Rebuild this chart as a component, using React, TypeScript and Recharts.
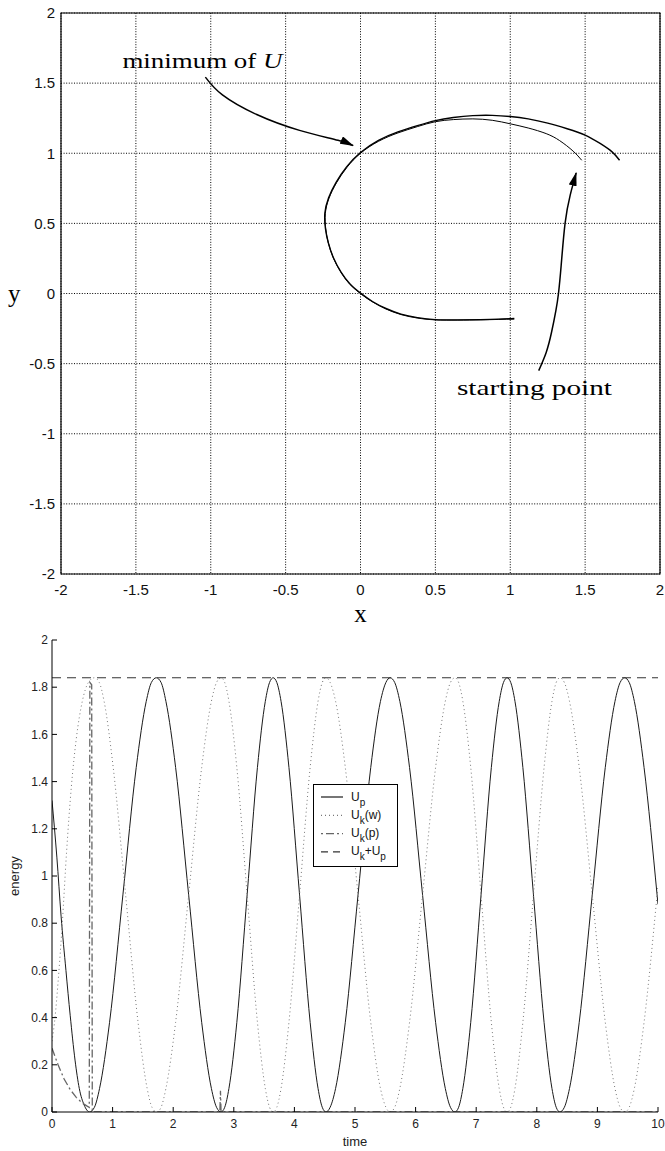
import React from "react";
import {
  LineChart,
  Line,
  XAxis,
  YAxis,
  CartesianGrid,
  ReferenceArea,
  ReferenceDot,
  Legend,
} from "recharts";

const SANS = "'Liberation Sans', Arial, sans-serif";
const SERIF = "'Liberation Serif', 'Times New Roman', serif";

// ---------- top panel: path in the x-y plane ----------
const planeTicks = [-2, -1.5, -1, -0.5, 0, 0.5, 1, 1.5, 2];

// first pass: from the starting point round to the lower end
const innerX = [1.477, 1.42, 1.33, 1.24, 1.12, 1.0, 0.88, 0.75, 0.62, 0.5, 0.38, 0.25, 0.12, 0.0, -0.09, -0.16, -0.21, -0.235, -0.232, -0.215, -0.18, -0.13, -0.07, 0.0, 0.08, 0.17, 0.27, 0.38, 0.5, 0.65, 0.8, 0.92, 1.027];
const innerY = [0.95, 1.015, 1.09, 1.14, 1.18, 1.21, 1.235, 1.245, 1.24, 1.225, 1.19, 1.145, 1.085, 1.0, 0.9, 0.79, 0.68, 0.57, 0.46, 0.36, 0.25, 0.15, 0.065, 0.0, -0.06, -0.11, -0.15, -0.175, -0.188, -0.19, -0.188, -0.185, -0.182];

// second pass: back from the lower end, out along the wider arc
const outerX = [1.027, 0.92, 0.8, 0.65, 0.5, 0.38, 0.27, 0.17, 0.08, 0.0, -0.07, -0.13, -0.18, -0.215, -0.234, -0.238, -0.213, -0.163, -0.093, 0.0, 0.12, 0.25, 0.38, 0.5, 0.62, 0.75, 0.88, 1.0, 1.12, 1.25, 1.38, 1.5, 1.6, 1.68, 1.73];
const outerY = [-0.178, -0.183, -0.186, -0.188, -0.186, -0.172, -0.147, -0.107, -0.057, 0.003, 0.068, 0.153, 0.253, 0.363, 0.463, 0.573, 0.683, 0.793, 0.903, 1.005, 1.092, 1.152, 1.197, 1.233, 1.255, 1.268, 1.27, 1.262, 1.245, 1.215, 1.175, 1.13, 1.07, 1.01, 0.95];

// annotation arrows
const arrowMinX = [-1.036, -0.922, -0.693, -0.407, -0.15, -0.05];
const arrowMinY = [1.543, 1.416, 1.276, 1.163, 1.092, 1.055];
const arrowStartX = [1.19, 1.24, 1.275, 1.305, 1.322, 1.34, 1.366, 1.4, 1.44];
const arrowStartY = [-0.55, -0.42, -0.28, -0.12, 0.0, 0.2, 0.5, 0.7, 0.86];

const minNote = { x: -1.59, y: 1.61, text: "minimum of ", symbol: "U" };
const startNote = { x: 0.644, y: -0.724, text: "starting point" };

// ---------- bottom panel: energies over time ----------
const timeTicks = [0, 1, 2, 3, 4, 5, 6, 7, 8, 9, 10];
const energyTicks = [0, 0.2, 0.4, 0.6, 0.8, 1, 1.2, 1.4, 1.6, 1.8, 2];

const upTime = [0, 0.08, 0.15, 0.23, 0.3, 0.38, 0.45, 0.53, 0.62,
  0.7, 0.785, 0.95, 1.17, 1.39, 1.555, 1.64, 1.72,
  1.8, 1.88, 2.04, 2.255, 2.47, 2.63, 2.715, 2.79,
  2.85, 2.92, 3.05, 3.22, 3.39, 3.52, 3.59, 3.65,
  3.71, 3.78, 3.91, 4.085, 4.26, 4.39, 4.46, 4.52,
  4.59, 4.68, 4.84, 5.05, 5.26, 5.42, 5.51, 5.58,
  5.655, 5.74, 5.9, 6.115, 6.33, 6.49, 6.575, 6.65,
  6.71, 6.78, 6.91, 7.08, 7.25, 7.38, 7.45, 7.51,
  7.57, 7.64, 7.77, 7.945, 8.12, 8.25, 8.32, 8.38,
  8.455, 8.54, 8.7, 8.915, 9.13, 9.29, 9.375, 9.45,
  9.525, 9.61, 9.77, 9.985, 10];
const upValue = [1.32, 1.08, 0.83, 0.6, 0.41, 0.22, 0.1, 0.03, 0,
  0.02, 0.1, 0.38, 0.92, 1.46, 1.74, 1.82, 1.84,
  1.82, 1.74, 1.46, 0.92, 0.38, 0.1, 0.02, 0,
  0.02, 0.1, 0.38, 0.92, 1.46, 1.74, 1.82, 1.84,
  1.82, 1.74, 1.46, 0.92, 0.38, 0.1, 0.02, 0,
  0.02, 0.1, 0.38, 0.92, 1.46, 1.74, 1.82, 1.84,
  1.82, 1.74, 1.46, 0.92, 0.38, 0.1, 0.02, 0,
  0.02, 0.1, 0.38, 0.92, 1.46, 1.74, 1.82, 1.84,
  1.82, 1.74, 1.46, 0.92, 0.38, 0.1, 0.02, 0,
  0.02, 0.1, 0.38, 0.92, 1.46, 1.74, 1.82, 1.84,
  1.82, 1.74, 1.46, 0.92, 0.88];

const ukwTime = [0, 0.05, 0.1, 0.17, 0.24, 0.32, 0.4, 0.5, 0.6, 0.7,
  0.78, 0.86, 1.01, 1.215, 1.42, 1.57, 1.65, 1.73,
  1.8, 1.88, 2.04, 2.255, 2.47, 2.63, 2.715, 2.79,
  2.85, 2.92, 3.05, 3.22, 3.39, 3.52, 3.59, 3.65,
  3.71, 3.78, 3.91, 4.085, 4.26, 4.39, 4.46, 4.52,
  4.59, 4.68, 4.84, 5.05, 5.26, 5.42, 5.51, 5.58,
  5.655, 5.74, 5.9, 6.115, 6.33, 6.49, 6.575, 6.65,
  6.71, 6.78, 6.91, 7.08, 7.25, 7.38, 7.45, 7.51,
  7.57, 7.64, 7.77, 7.945, 8.12, 8.25, 8.32, 8.38,
  8.455, 8.54, 8.7, 8.915, 9.13, 9.29, 9.375, 9.45,
  9.525, 9.61, 9.77, 9.985, 10];
const ukwValue = [0.3, 0.4, 0.55, 0.8, 1.1, 1.38, 1.58, 1.74, 1.82, 1.84,
  1.82, 1.74, 1.46, 0.92, 0.38, 0.1, 0.02, 0,
  0.02, 0.1, 0.38, 0.92, 1.46, 1.74, 1.82, 1.84,
  1.82, 1.74, 1.46, 0.92, 0.38, 0.1, 0.02, 0,
  0.02, 0.1, 0.38, 0.92, 1.46, 1.74, 1.82, 1.84,
  1.82, 1.74, 1.46, 0.92, 0.38, 0.1, 0.02, 0,
  0.02, 0.1, 0.38, 0.92, 1.46, 1.74, 1.82, 1.84,
  1.82, 1.74, 1.46, 0.92, 0.38, 0.1, 0.02, 0,
  0.02, 0.1, 0.38, 0.92, 1.46, 1.74, 1.82, 1.84,
  1.82, 1.74, 1.46, 0.92, 0.38, 0.1, 0.02, 0,
  0.02, 0.1, 0.38, 0.92, 0.96];

const ukpTime = [0, 0.1, 0.2, 0.3, 0.4, 0.5, 0.58, 0.615, 0.625, 0.655, 0.665, 2.77, 2.78, 2.79, 10];
const ukpValue = [0.27, 0.2, 0.14, 0.095, 0.062, 0.038, 0.025, 0.02, 1.82, 1.81, 0, 0, 0.09, 0, 0];

const sumTime = [0, 10];
const sumValue = [1.84, 1.84];

const legendRows = [
  { parts: [{ t: "U" }, { t: "p", sub: true }], stroke: "#1a1a1a", dash: undefined as string | undefined },
  { parts: [{ t: "U" }, { t: "k", sub: true }, { t: "(w)" }], stroke: "#777", dash: "1 3" },
  { parts: [{ t: "U" }, { t: "k", sub: true }, { t: "(p)" }], stroke: "#666", dash: "2 3 8 3" },
  { parts: [{ t: "U" }, { t: "k", sub: true }, { t: "+U" }, { t: "p", sub: true }], stroke: "#333", dash: "7 5" },
];

const toPlane = (xs: number[], ys: number[]) => xs.map((x, i) => ({ x, y: ys[i] }));
const toSeries = (ts: number[], vs: number[]) => ts.map((t, i) => ({ t, v: vs[i] }));

function PlanePanel() {
  const tickStyle = { fontFamily: SANS, fontSize: 15, fill: "#111" };
  return (
    <LineChart width={665} height={630} margin={{ top: 13, right: 5, bottom: 0, left: 0 }}>
      <defs>
        <marker id="arrowHead" viewBox="0 0 14 8" refX="13" refY="4" markerWidth="14" markerHeight="8" markerUnits="userSpaceOnUse" orient="auto">
          <path d="M0,0 L14,4 L0,8 z" fill="#000" />
        </marker>
      </defs>
      <CartesianGrid stroke="#000" strokeDasharray="1 1.6" />
      <XAxis
        type="number"
        dataKey="x"
        domain={[-2, 2]}
        ticks={planeTicks}
        interval={0}
        height={56}
        tickSize={0}
        tickMargin={10}
        tickLine={false}
        axisLine={false}
        tick={tickStyle}
        allowDataOverflow
        label={{ value: "x", position: "insideBottom", offset: 8, fontFamily: SERIF, fontSize: 25, fill: "#000" }}
      />
      <YAxis
        type="number"
        domain={[-2, 2]}
        ticks={planeTicks}
        interval={0}
        width={61}
        tickSize={0}
        tickMargin={6}
        tickLine={false}
        axisLine={false}
        tick={tickStyle}
        allowDataOverflow
        label={{ value: "y", position: "insideLeft", offset: 8, fontFamily: SERIF, fontSize: 25, fill: "#000" }}
      />
      <ReferenceArea x1={-2} x2={2} y1={-2} y2={2} fill="none" stroke="#000" strokeWidth={1.2} ifOverflow="visible" />
      <Line data={toPlane(innerX, innerY)} dataKey="y" type="natural" stroke="#000" strokeWidth={1} dot={false} isAnimationActive={false} />
      <Line data={toPlane(outerX, outerY)} dataKey="y" type="natural" stroke="#000" strokeWidth={1.4} dot={false} isAnimationActive={false} />
      <Line data={toPlane(arrowMinX, arrowMinY)} dataKey="y" type="natural" stroke="#000" strokeWidth={1.5} dot={false} markerEnd="url(#arrowHead)" isAnimationActive={false} />
      <Line data={toPlane(arrowStartX, arrowStartY)} dataKey="y" type="natural" stroke="#000" strokeWidth={1.5} dot={false} markerEnd="url(#arrowHead)" isAnimationActive={false} />
      <ReferenceDot
        x={minNote.x}
        y={minNote.y}
        r={0}
        ifOverflow="visible"
        shape={(p: any) => (
          <text x={p.cx} y={p.cy} fontFamily={SERIF} fontSize={22} fill="#000" textLength={160} lengthAdjust="spacingAndGlyphs">
            {minNote.text}
            <tspan fontStyle="italic">{minNote.symbol}</tspan>
          </text>
        )}
      />
      <ReferenceDot
        x={startNote.x}
        y={startNote.y}
        r={0}
        ifOverflow="visible"
        shape={(p: any) => (
          <text x={p.cx} y={p.cy} fontFamily={SERIF} fontSize={22} fill="#000" textLength={155} lengthAdjust="spacingAndGlyphs">
            {startNote.text}
          </text>
        )}
      />
    </LineChart>
  );
}

function EnergyLegend() {
  return (
    <svg width={85} height={83} style={{ display: "block" }}>
      <rect x={0.5} y={0.5} width={84} height={82} fill="#fff" stroke="#000" />
      {legendRows.map((row, i) => {
        const cy = 12 + i * 18.3;
        return (
          <g key={i}>
            <line x1={8} x2={30} y1={cy + 1} y2={cy + 1} stroke={row.stroke} strokeWidth={1.2} strokeDasharray={row.dash} />
            <text x={38} y={cy + 4.5} fontFamily={SANS} fontSize={12} fill="#111">
              {row.parts.map((p: any, j) => {
                const prevSub = j > 0 && (row.parts[j - 1] as any).sub;
                return (
                  <tspan key={j} fill="#111" fontSize={p.sub ? 10 : 12} dy={p.sub ? 5 : prevSub ? -5 : 0}>
                    {p.t}
                  </tspan>
                );
              })}
            </text>
          </g>
        );
      })}
    </svg>
  );
}

function EnergyPanel() {
  const tickStyle = { fontFamily: SANS, fontSize: 12, fill: "#222" };
  return (
    <LineChart width={665} height={521} margin={{ top: 10, right: 7, bottom: 0, left: 0 }}>
      <XAxis
        type="number"
        dataKey="t"
        domain={[0, 10]}
        ticks={timeTicks}
        interval={0}
        height={39}
        tickSize={-5}
        tickMargin={12}
        stroke="#000"
        tick={tickStyle}
        allowDataOverflow
        label={{ value: "time", position: "insideBottom", offset: 5, fontFamily: SANS, fontSize: 13, fill: "#222" }}
      />
      <XAxis xAxisId="top" orientation="top" type="number" domain={[0, 10]} ticks={timeTicks} interval={0} height={0} tickSize={-5} tick={false} stroke="#000" allowDataOverflow />
      <YAxis
        type="number"
        domain={[0, 2]}
        ticks={energyTicks}
        interval={0}
        width={52}
        tickSize={-5}
        tickMargin={9}
        stroke="#000"
        tick={tickStyle}
        allowDataOverflow
        label={{ value: "energy", angle: -90, position: "center", dx: -12, fontFamily: SANS, fontSize: 13, fill: "#222" }}
      />
      <YAxis yAxisId="right" orientation="right" type="number" domain={[0, 2]} ticks={energyTicks} interval={0} width={0} tickSize={-5} tick={false} stroke="#000" allowDataOverflow />
      <Legend
        layout="horizontal"
        verticalAlign="middle"
        align="center"
        content={() => <EnergyLegend />}
        wrapperStyle={{ position: "absolute", left: 313, top: 154, width: 85, height: 83 }}
      />
      <Line data={toSeries(upTime, upValue)} dataKey="v" name="Up" type="monotone" stroke="#1a1a1a" strokeWidth={1} dot={false} isAnimationActive={false} />
      <Line data={toSeries(ukwTime, ukwValue)} dataKey="v" name="Uk(w)" type="monotone" stroke="#777" strokeWidth={1} strokeDasharray="1 3" dot={false} isAnimationActive={false} />
      <Line data={toSeries(ukpTime, ukpValue)} dataKey="v" name="Uk(p)" type="linear" stroke="#666" strokeWidth={1.3} strokeDasharray="8 3 2 3" dot={false} isAnimationActive={false} />
      <Line data={toSeries(sumTime, sumValue)} dataKey="v" name="Uk+Up" type="linear" stroke="#333" strokeWidth={1} strokeDasharray="9 6" dot={false} isAnimationActive={false} />
    </LineChart>
  );
}

export default function App() {
  return (
    <div style={{ position: "absolute", left: 0, top: 0, width: 665, height: 1151, background: "#fff" }}>
      <div style={{ position: "absolute", left: 0, top: 0 }}>
        <PlanePanel />
      </div>
      <div style={{ position: "absolute", left: 0, top: 630 }}>
        <EnergyPanel />
      </div>
    </div>
  );
}
